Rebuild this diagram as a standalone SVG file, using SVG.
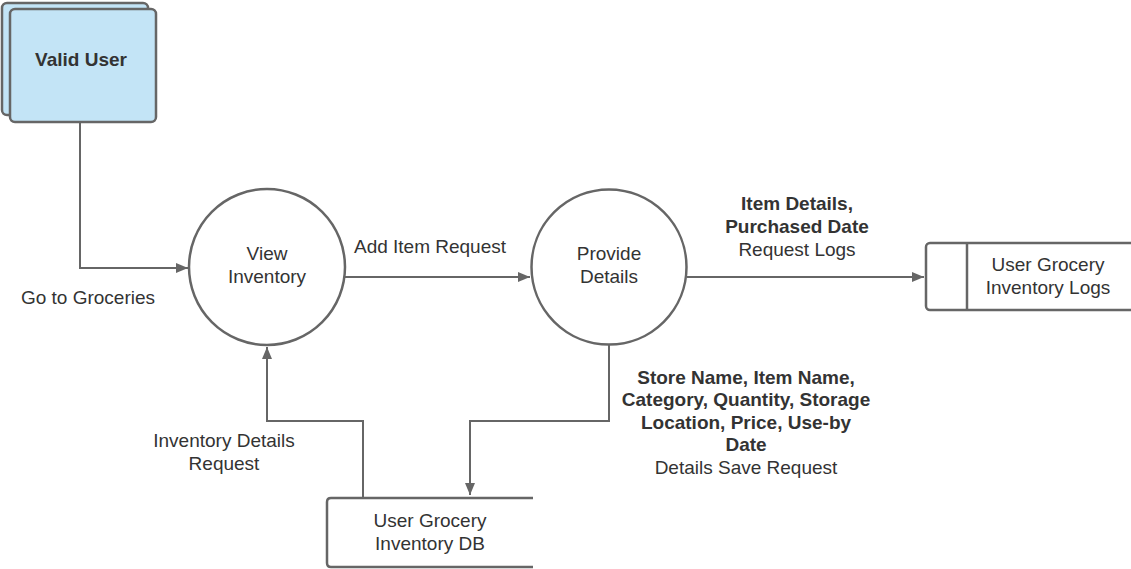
<svg xmlns="http://www.w3.org/2000/svg" width="1131" height="569" viewBox="0 0 1131 569">
<defs>
<style>
.t{font-family:"Liberation Sans",Arial,sans-serif;font-size:19px;fill:#333;text-anchor:middle}
.b{font-weight:bold}
.s{fill:none;stroke:#666;stroke-width:2}
.n{fill:#fff;stroke:#666;stroke-width:2.5}
.e{fill:#c3e4f6;stroke:#666;stroke-width:2.5}
</style>
<marker id="a" viewBox="0 0 12 10" refX="12" refY="5" markerWidth="12" markerHeight="10" markerUnits="userSpaceOnUse" orient="auto">
<path d="M0,0 L12,5 L0,10 Z" fill="#666"/>
</marker>
</defs>
<rect width="1131" height="569" fill="#fff"/>
<g id="connectors">
<path class="s" d="M80,122 V268 H188" marker-end="url(#a)"/>
<path class="s" d="M345,277 H530" marker-end="url(#a)"/>
<path class="s" d="M687,277 H924" marker-end="url(#a)"/>
<path class="s" d="M363,497 V421 H267 V347" marker-end="url(#a)"/>
<path class="s" d="M609,345 V421 H470 V495" marker-end="url(#a)"/>
</g>
<g id="valid-user">
<rect class="e" x="2" y="3" width="146" height="112" rx="5"/>
<rect class="e" x="10" y="9" width="146" height="113" rx="5"/>
<text class="t b" x="81" y="66">Valid User</text>
</g>
<g id="view-inventory">
<circle class="n" cx="267" cy="267" r="78"/>
<text class="t" x="267" y="260">View</text>
<text class="t" x="267" y="283">Inventory</text>
</g>
<g id="provide-details">
<circle class="n" cx="609" cy="267" r="77.5"/>
<text class="t" x="609" y="260">Provide</text>
<text class="t" x="609" y="283">Details</text>
</g>
<g id="logs">
<rect class="n" x="926" y="243" width="220" height="67" rx="4"/>
<line class="s" x1="967" y1="243" x2="967" y2="310" style="stroke-width:2.5"/>
<text class="t" x="1048" y="271">User Grocery</text>
<text class="t" x="1048" y="294">Inventory Logs</text>
</g>
<g id="db">
<path class="n" d="M533,498 H331 Q327,498 327,502 V563 Q327,567 331,567 H533"/>
<text class="t" x="430" y="527">User Grocery</text>
<text class="t" x="430" y="550">Inventory DB</text>
</g>
<g id="labels">
<text class="t" x="88" y="304">Go to Groceries</text>
<text class="t" x="430" y="253">Add Item Request</text>
<text class="t b" x="797" y="210">Item Details,</text>
<text class="t b" x="797" y="233">Purchased Date</text>
<text class="t" x="797" y="256">Request Logs</text>
<text class="t" x="224" y="447">Inventory Details</text>
<text class="t" x="224" y="470">Request</text>
<text class="t b" x="746" y="384">Store Name, Item Name,</text>
<text class="t b" x="746" y="406">Category, Quantity, Storage</text>
<text class="t b" x="746" y="429">Location, Price, Use-by</text>
<text class="t b" x="746" y="451">Date</text>
<text class="t" x="746" y="474">Details Save Request</text>
</g>
</svg>
